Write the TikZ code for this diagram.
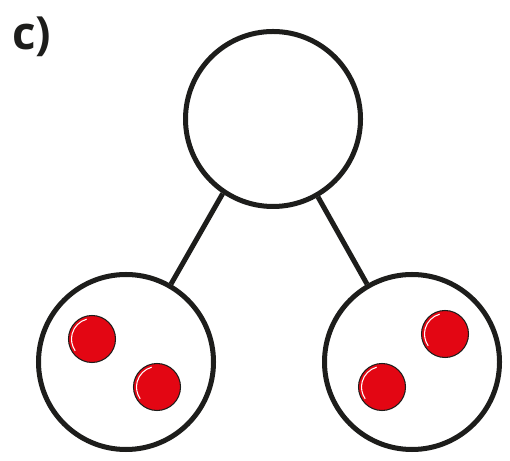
\documentclass[tikz,border=0pt]{standalone}
\usepackage{fontspec}
\setsansfont{Open Sans}
\usetikzlibrary{positioning}
\definecolor{ink}{HTML}{1D1D1B}
\definecolor{dotred}{HTML}{E30613}
\tikzset{bag/.style = {draw = ink, circle, line width = 2.85pt, inner sep = 0, minimum size = 3.5cm}}
\tikzset{ball/.style = {fill = dotred, draw = ink, circle, line width = 0.6pt, inner sep = 0, minimum size = 0.94cm}}
\tikzset{shine/.style = {white, line width = 0.6pt}}

\begin{document}
\begin{tikzpicture}
          \useasboundingbox (0, 0) rectangle (10.2, 9.22);

          \node [inner sep = 0, anchor = base west, text = ink] (lbl) at (0.24, 8.22) {\sffamily\bfseries\fontsize{26}{30}\selectfont c)};

          \node [bag] (top) at (5.46, 6.84) {};
          \node [bag] (left) at (2.52, 1.98) {};
          \node [bag] (right) at (8.24, 1.98) {};

          \draw [ink, line width = 2.85pt] (top.236) -- (left.60);
          \draw [ink, line width = 2.85pt] (top.300) -- (right.120);

          \node [ball] (l1) at (1.84, 2.44) {};
          \node [ball] (l2) at (3.14, 1.48) {};
          \node [ball] (r1) at (8.90, 2.54) {};
          \node [ball] (r2) at (7.64, 1.48) {};

          \foreach \b in {l1, l2, r1, r2}
            \draw [shine, shift = {(\b)}] (105:0.41) arc (105:215:0.41);
        \end{tikzpicture}
\end{document}
